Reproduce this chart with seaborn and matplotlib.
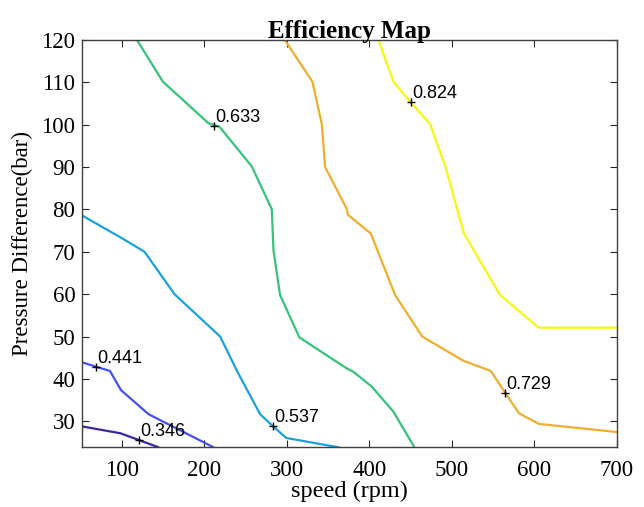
import pandas as pd
import seaborn as sns
import matplotlib.pyplot as plt

# contour levels and their polylines (speed in rpm, pressure difference in bar)
levels = [0.346, 0.441, 0.537, 0.633, 0.729, 0.824]

speed_346 = [52.2, 98.3, 144.4]
press_346 = [28.8, 27.2, 23.9]

speed_441 = [52.2, 68.5, 85.5, 98.8, 132.3, 211.0]
press_441 = [43.9, 42.9, 41.9, 37.4, 31.7, 23.9]

speed_537 = [52.2, 100.0, 127.4, 163.8, 219.2, 240.1, 267.6, 283.0, 299.2, 362.5]
press_537 = [78.5, 73.2, 70.0, 60.0, 50.0, 41.7, 31.7, 28.9, 26.1, 23.9]

speed_633 = [118.1, 149.7, 205.0, 218.3, 257.6, 281.8, 283.8, 291.8, 315.2, 372.7, 380.7, 403.0, 429.2, 454.7]
press_633 = [120.0, 110.1, 100.3, 99.5, 90.1, 80.0, 70.4, 59.8, 49.8, 42.5, 41.7, 38.2, 32.3, 23.9]

speed_729 = [297.3, 331.0, 342.4, 346.4, 372.4, 374.2, 401.8, 431.3, 464.2, 514.0, 547.3, 564.6, 581.6, 605.9, 700.0]
press_729 = [120.0, 110.1, 100.1, 90.0, 80.2, 78.7, 74.3, 59.8, 50.0, 44.3, 41.9, 36.8, 31.9, 29.4, 27.5]

speed_824 = [411.0, 429.2, 450.3, 473.7, 492.5, 514.5, 558.2, 605.3, 700.0]
press_824 = [120.0, 110.1, 105.2, 100.1, 90.0, 74.4, 59.9, 52.1, 52.1]

# label anchor points
label_speed = [121.0, 68.5, 283.0, 211.9, 564.6, 450.3]
label_press = [25.6, 42.9, 28.9, 99.7, 36.8, 105.2]

colors = ['#3B24A3', '#4352EE', '#1BA1DD', '#35C37A', '#F0AE2D', '#F7F70F']

rows = []
for lev, xs, ys in zip(levels,
                       [speed_346, speed_441, speed_537, speed_633, speed_729, speed_824],
                       [press_346, press_441, press_537, press_633, press_729, press_824]):
    for i, (x, y) in enumerate(zip(xs, ys)):
        rows.append({'level': f'{lev:.3f}', 'order': i, 'speed': x, 'pressure': y})
df = pd.DataFrame(rows)
labels_df = pd.DataFrame({'speed': label_speed, 'pressure': label_press,
                          'text': [f'{l:.3f}' for l in levels]})

sns.set_style('ticks')
plt.rcParams['font.family'] = ['Liberation Serif', 'DejaVu Serif']
plt.rcParams['text.color'] = 'black'
plt.rcParams['axes.labelcolor'] = 'black'

fig = plt.figure(figsize=(6.44, 5.07), dpi=100)
ax = fig.add_axes([0.1278, 0.1178, 0.8298, 0.8039])

palette = {f'{l:.3f}': c for l, c in zip(levels, colors)}
sns.lineplot(data=df, x='speed', y='pressure', hue='level', palette=palette,
             sort=False, estimator=None, units='level', linewidth=1.6,
             legend=False, ax=ax)
sns.scatterplot(data=labels_df, x='speed', y='pressure', marker='+', color='black',
                s=40, linewidth=1.0, ax=ax, zorder=5)
for _, r in labels_df.iterrows():
    ax.text(r['speed'] + 1.5, r['pressure'] + 0.95, r['text'], fontsize=13,
            color='black', family=['Liberation Sans', 'DejaVu Sans'],
            ha='left', va='baseline')

ax.set_xlim(52, 700)
ax.set_ylim(23.9, 120)
ax.set_xticks([100, 200, 300, 400, 500, 600, 700])
ax.set_yticks([30, 40, 50, 60, 70, 80, 90, 100, 110, 120])
ax.tick_params(direction='in', length=5, width=0.8, top=True, right=True,
               labelsize=16.5, colors='#262626', labelcolor='black')
ax.tick_params(axis='x', pad=9)
ax.tick_params(axis='y', pad=5)
for s in ax.spines.values():
    s.set_color('#404040')
    s.set_linewidth(1.0)
ax.set_xlabel('speed (rpm)', fontsize=17.5, labelpad=0, color='black')
ax.set_ylabel('Pressure Difference(bar)', fontsize=16.5, labelpad=6, color='black')
ax.set_title('Efficiency Map', fontsize=18, fontweight='bold', pad=1, color='black')

fig.savefig('out.png', dpi=100)
